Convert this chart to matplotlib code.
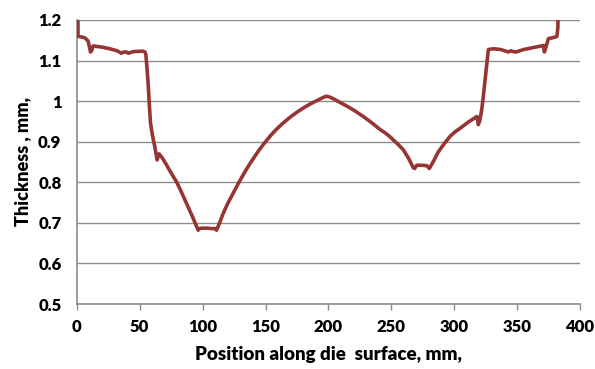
import matplotlib
matplotlib.use("Agg")
import matplotlib.pyplot as plt

# thickness profile along the die surface
position = [0.8, 1.0, 3.5, 6.4, 9.0, 10.2, 10.9, 11.8, 13.0, 20, 26.2, 32, 35.5, 37.5,
            39.5, 41, 45, 52.7, 54.2, 54.9, 55.6, 56.7, 57.6, 58.6, 60.2, 62.0, 63.9,
            64.6, 65.4, 68, 71.3, 75, 79.3, 83, 87.2, 92, 96.5, 97.5, 99.2, 104, 106.5,
            109.7, 111.1, 113.5, 116.3, 120, 124.3, 128, 132.2, 136, 140.2, 145, 149.5,
            154, 158.8, 164, 169.4, 176, 182.7, 188, 193.2, 196.5, 198.6, 201, 203.8,
            209, 214.5, 221, 227.7, 233, 238.3, 241, 245, 249, 252, 255.5, 259.5, 263.5,
            267.4, 268.5, 270.1, 274, 278.1, 280.2, 283.5, 287.3, 292, 296.6, 300.5,
            304.6, 311, 317.9, 318.5, 319.1, 320.3, 321.8, 323.2, 324.5, 325.8, 327.1,
            331.1, 337, 343, 345, 347, 349, 355, 363, 370.8, 371.6, 372.5, 374.8, 378,
            381.5, 382.3, 382.7]
thickness = [1.26, 1.160, 1.158, 1.156, 1.148, 1.132, 1.121, 1.124, 1.136, 1.133, 1.129,
             1.124, 1.118, 1.121, 1.121, 1.118, 1.122, 1.123, 1.121, 1.115, 1.09, 1.045,
             0.995, 0.946, 0.915, 0.888, 0.855, 0.865, 0.870, 0.860, 0.843, 0.823, 0.801,
             0.777, 0.748, 0.715, 0.682, 0.686, 0.687, 0.687, 0.686, 0.686, 0.682, 0.700,
             0.723, 0.748, 0.773, 0.795, 0.818, 0.838, 0.858, 0.880, 0.898, 0.915, 0.931,
             0.946, 0.960, 0.975, 0.988, 0.997, 1.005, 1.010, 1.012, 1.010, 1.006, 0.997,
             0.988, 0.976, 0.962, 0.950, 0.937, 0.930, 0.922, 0.912, 0.903, 0.893, 0.880,
             0.860, 0.836, 0.834, 0.842, 0.842, 0.841, 0.834, 0.852, 0.875, 0.895, 0.913,
             0.924, 0.933, 0.948, 0.962, 0.955, 0.942, 0.952, 0.979, 1.015, 1.053, 1.09,
             1.127, 1.129, 1.127, 1.121, 1.124, 1.122, 1.121, 1.127, 1.132, 1.137, 1.121,
             1.130, 1.154, 1.156, 1.159, 1.18, 1.26]

x_ticks = [0, 50, 100, 150, 200, 250, 300, 350, 400]
y_ticks = [0.5, 0.6, 0.7, 0.8, 0.9, 1.0, 1.1, 1.2]
y_labels = ["0.5", "0.6", "0.7", "0.8", "0.9", "1", "1.1", "1.2"]

plt.rcParams['font.family'] = ['Lato', 'DejaVu Sans']

fig = plt.figure(figsize=(5.95, 3.69), dpi=100)
ax = fig.add_axes([0.129, 0.176, 0.846, 0.770])

grid_col = '#8c8c8c'
for y in y_ticks:
    ax.axhline(y, color=grid_col, linewidth=1.0, zorder=1)

ax.plot(position, thickness, color='#963634', linewidth=2.6, zorder=3)

ax.set_xlim(0, 400)
ax.set_ylim(0.5, 1.2)
ax.set_xticks(x_ticks)
ax.set_yticks(y_ticks)
ax.set_yticklabels(y_labels)

for side in ['top', 'right']:
    ax.spines[side].set_visible(False)
for side in ['left', 'bottom']:
    ax.spines[side].set_color(grid_col)
    ax.spines[side].set_linewidth(1.2)

ax.tick_params(axis='x', direction='out', length=4, width=1, color=grid_col, pad=7,
               labelsize=12)
ax.tick_params(axis='y', length=0, pad=11, labelsize=12)
for lab in ax.get_xticklabels() + ax.get_yticklabels():
    lab.set_fontweight('heavy')

ax.set_xlabel('Position along die  surface, mm,', fontsize=13.5, fontweight='heavy', labelpad=8)
ax.set_ylabel('Thickness , mm,', fontsize=13, fontweight='heavy', labelpad=5)

fig.savefig('out.png', dpi=100)
